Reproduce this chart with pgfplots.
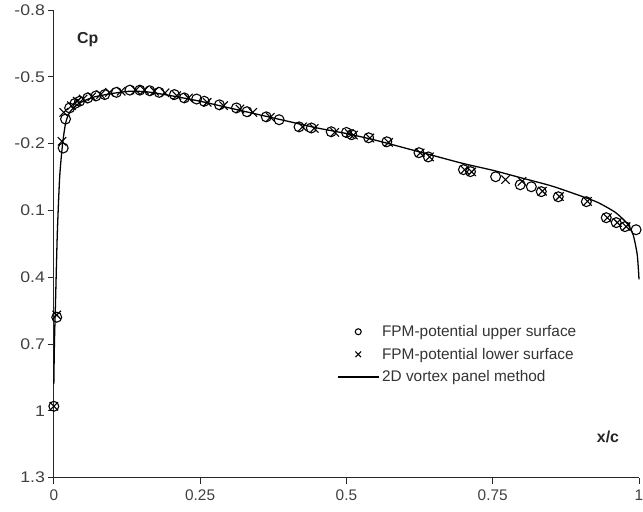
\documentclass[border=0pt]{standalone}
\usepackage{pgfplots}
\pgfplotsset{compat=1.18}
\usepackage{fontspec}
\setmainfont{Liberation Sans}
\pgfplotsset{
  markleg/.style={legend image code/.code={\draw[##1,mark size=#1,mark repeat=2,mark phase=2] plot coordinates {(0cm,0cm)(0.72cm,0cm)(1.44cm,0cm)};}},
  lineleg/.style={legend image code/.code={\draw[##1] (0cm,0cm) -- (1.47cm,0cm);}},
}
\begin{document}
\begin{tikzpicture}
\useasboundingbox (-54bp,-34bp) rectangle (591bp,479bp);
\begin{axis}[
  at={(0,0)}, anchor=south west,
  scale only axis,
  width=587bp, height=469bp,
  xmin=0, xmax=1, ymin=-0.8, ymax=1.3,
  y dir=reverse,
  axis x line*=bottom, axis y line*=left,
  axis line style={black!85, line width=0.8pt},
  xtick={0,0.25,0.5,0.75,1},
  xticklabels={0,0.25,0.5,0.75,1},
  ytick={-0.8,-0.5,-0.2,0.1,0.4,0.7,1,1.3},
  yticklabels={-0.8,-0.5,-0.2,0.1,0.4,0.7,1,1.3},
  tick align=outside,
  major tick length=6bp,
  tick style={black!85, line width=0.8pt},
  ticklabel style={font=\fontsize{15.5}{17}\selectfont, text=black!75},
  xticklabel style={yshift=-3bp},
  yticklabel style={xscale=1.15, xshift=1bp},
  legend style={at={(0.484,0.33)}, anchor=north west, draw=none, fill=none,
    font=\fontsize{15.5}{17}\selectfont, text=black!80, row sep=6bp, inner sep=0pt},
  legend cell align=left,
  clip=false,
]
\addplot[only marks, mark=o, mark size=5pt, line width=1.1pt, black, markleg=3pt]
coordinates {
(0,0.98) (0.005,0.58) (0.016,-0.18) (0.02,-0.31) (0.027,-0.36) (0.036,-0.38)
(0.044,-0.39) (0.058,-0.405) (0.072,-0.414) (0.087,-0.42) (0.107,-0.43)
(0.13,-0.44) (0.147,-0.44) (0.164,-0.437) (0.18,-0.43) (0.206,-0.42)
(0.223,-0.405) (0.244,-0.40) (0.257,-0.39) (0.283,-0.374) (0.312,-0.36)
(0.33,-0.343) (0.363,-0.32) (0.385,-0.307) (0.419,-0.275) (0.44,-0.27)
(0.474,-0.253) (0.50,-0.25) (0.509,-0.24) (0.538,-0.226) (0.569,-0.208)
(0.624,-0.159) (0.64,-0.14) (0.70,-0.083) (0.712,-0.074) (0.755,-0.051)
(0.797,-0.015) (0.816,-0.006) (0.833,0.016) (0.862,0.039) (0.91,0.061)
(0.944,0.133) (0.961,0.155) (0.976,0.173) (0.995,0.187)
};
\addlegendentry{FPM-potential upper surface}
\addplot[only marks, mark=x, mark size=6pt, line width=1.1pt, black, markleg=4pt]
coordinates {
(0,0.98) (0.005,0.57) (0.014,-0.21) (0.017,-0.34) (0.03,-0.37) (0.04,-0.39)
(0.05,-0.40) (0.065,-0.41) (0.08,-0.42) (0.095,-0.43) (0.115,-0.435)
(0.14,-0.44) (0.155,-0.44) (0.172,-0.435) (0.19,-0.428) (0.21,-0.415)
(0.23,-0.405) (0.262,-0.385) (0.29,-0.37) (0.318,-0.355) (0.34,-0.34)
(0.37,-0.318) (0.425,-0.275) (0.445,-0.268) (0.48,-0.25) (0.505,-0.245)
(0.512,-0.238) (0.54,-0.225) (0.572,-0.205) (0.626,-0.158) (0.642,-0.14)
(0.702,-0.082) (0.714,-0.073) (0.772,-0.038) (0.80,-0.03) (0.835,0.014)
(0.864,0.038) (0.912,0.06) (0.946,0.133) (0.963,0.155) (0.978,0.173)
};
\addlegendentry{FPM-potential lower surface}
\addplot[black, line width=1.3pt, smooth, tension=0.4, lineleg]
coordinates {
(0.000,0.88) (0.001,0.70) (0.003,0.50) (0.006,0.20) (0.010,-0.05)
(0.015,-0.20) (0.020,-0.29) (0.025,-0.33) (0.03,-0.35) (0.04,-0.375)
(0.05,-0.39) (0.07,-0.41) (0.1,-0.425) (0.13,-0.435) (0.16,-0.432)
(0.2,-0.415) (0.25,-0.39) (0.3,-0.36) (0.35,-0.33) (0.4,-0.30)
(0.45,-0.27) (0.5,-0.245) (0.55,-0.215) (0.6,-0.18) (0.65,-0.145)
(0.7,-0.11) (0.75,-0.08) (0.8,-0.045) (0.85,-0.01) (0.9,0.035)
(0.93,0.065) (0.96,0.11) (0.98,0.16) (0.99,0.21) (0.997,0.30) (1.0,0.41)
};
\addlegendentry{2D vortex panel method}
\node[font=\bfseries\fontsize{16}{18}\selectfont, text=black!85] at (axis cs:0.058,-0.665) {Cp};
\node[font=\bfseries\fontsize{16}{18}\selectfont, text=black!85] at (axis cs:0.947,1.119) {x/c};
\end{axis}
\end{tikzpicture}
\end{document}
